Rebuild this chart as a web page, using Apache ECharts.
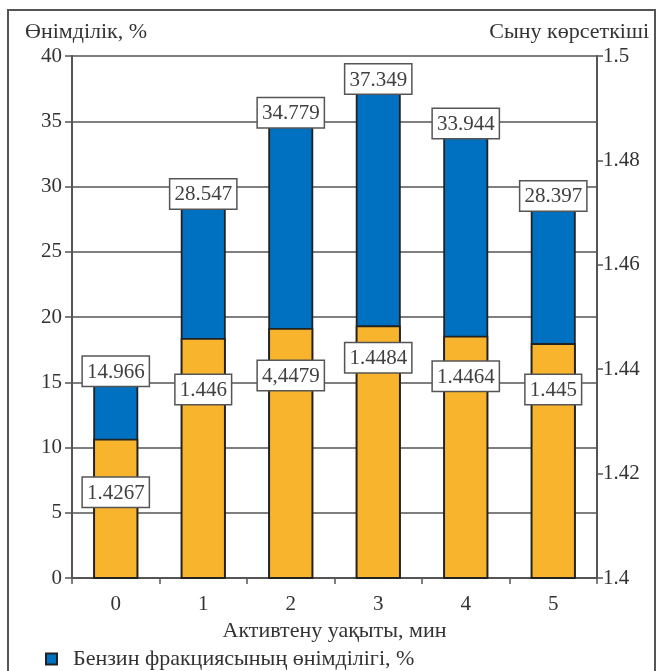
<!DOCTYPE html>
<html>
<head>
<meta charset="utf-8">
<script src="https://cdn.jsdelivr.net/npm/echarts@6/dist/echarts.min.js"></script>
<style>
  html, body { margin: 0; padding: 0; background: #fff; }
  #chart { width: 660px; height: 671px; }
</style>
</head>
<body>
<div id="chart"></div>
<script>
// Activation time, minutes
const categories = ['0', '1', '2', '3', '4', '5'];
// Gasoline fraction yield, %
const yieldValues = [14.966, 28.547, 34.779, 37.349, 33.944, 28.397];
// Refractive index
const refractionValues = [1.4267, 1.446, 1.4479, 1.4484, 1.4464, 1.445];
// Printed labels of the refractive index bars
const refractionLabels = ['1.4267', '1.446', '4,4479', '1.4484', '1.4464', '1.445'];
// Distance of each refractive index label below its bar top (style only)
const refractionLabelGaps = [39, 37, 33, 18, 26, 32];

const SERIF = '"Liberation Serif", "DejaVu Serif", serif';
const AXIS = '#555';
const TEXT = '#333';

const boxLabel = {
  show: true,
  fontFamily: SERIF,
  fontSize: 21,
  color: '#404040',
  backgroundColor: '#fff',
  borderColor: '#555',
  borderWidth: 1.5,
  padding: [5, 4, 3, 4]
};

const chart = echarts.init(document.getElementById('chart'), null, { renderer: 'canvas' });

chart.setOption({
  animation: false,
  backgroundColor: '#fff',
  graphic: [{
    type: 'rect',
    shape: { x: 8, y: 10, width: 647, height: 720 },
    style: { fill: 'none', stroke: '#555', lineWidth: 2 },
    z: -1
  }],
  title: [
    { text: 'Өнімділік, %', left: 20, top: 16,
      textStyle: { fontFamily: SERIF, fontSize: 22, fontWeight: 'normal', color: TEXT } },
    { text: 'Сыну көрсеткіші', right: 6, top: 16,
      textStyle: { fontFamily: SERIF, fontSize: 22, fontWeight: 'normal', color: TEXT } }
  ],
  legend: {
    data: ['Бензин фракциясының өнімділігі, %'],
    left: 40,
    top: 643,
    icon: 'rect',
    itemWidth: 11,
    itemHeight: 11,
    itemGap: 10,
    textStyle: { fontFamily: SERIF, fontSize: 22, color: TEXT, padding: [0, 0, 0, 11] }
  },
  grid: { left: 72, right: 63, top: 56, bottom: 93 },
  xAxis: {
    type: 'category',
    data: categories,
    name: 'Активтену уақыты, мин',
    nameLocation: 'middle',
    nameGap: 41,
    nameTextStyle: { fontFamily: SERIF, fontSize: 22, color: TEXT },
    axisLine: { lineStyle: { color: AXIS, width: 2 } },
    axisTick: { show: true, length: 6, lineStyle: { color: AXIS, width: 1.5 } },
    axisLabel: { fontFamily: SERIF, fontSize: 21, color: TEXT, margin: 16 }
  },
  yAxis: [
    {
      type: 'value',
      min: 0,
      max: 40,
      interval: 5,
      axisLine: { show: true, lineStyle: { color: AXIS, width: 2 } },
      axisTick: { show: true, length: 7, lineStyle: { color: AXIS, width: 1.5 } },
      axisLabel: { fontFamily: SERIF, fontSize: 21, color: TEXT, margin: 10 },
      splitLine: { show: true, lineStyle: { color: AXIS, width: 1.5 } }
    },
    {
      type: 'value',
      position: 'right',
      min: 1.4,
      max: 1.5,
      interval: 0.02,
      axisLine: { show: true, lineStyle: { color: AXIS, width: 2 } },
      axisTick: { show: true, length: 6, lineStyle: { color: AXIS, width: 1.5 } },
      axisLabel: { fontFamily: SERIF, fontSize: 21, color: TEXT, margin: 6 },
      splitLine: { show: false }
    }
  ],
  series: [
    {
      name: 'Бензин фракциясының өнімділігі, %',
      type: 'bar',
      yAxisIndex: 0,
      barWidth: 45,
      barGap: '-100%',
      data: yieldValues,
      itemStyle: { color: '#0070C0', borderColor: '#222', borderWidth: 1.8 },
      label: Object.assign({}, boxLabel, {
        position: 'top',
        distance: -3,
        formatter: p => String(p.value)
      }),
      z: 2
    },
    {
      name: 'Сыну көрсеткіші',
      type: 'bar',
      yAxisIndex: 1,
      barWidth: 45,
      barGap: '-100%',
      data: refractionValues.map((v, i) => ({
        value: v,
        label: { distance: refractionLabelGaps[i] }
      })),
      itemStyle: { color: '#F9B42D', borderColor: '#222', borderWidth: 1.8 },
      label: Object.assign({}, boxLabel, {
        position: 'insideTop',
        formatter: p => refractionLabels[p.dataIndex]
      }),
      z: 3
    }
  ]
});
</script>
</body>
</html>
